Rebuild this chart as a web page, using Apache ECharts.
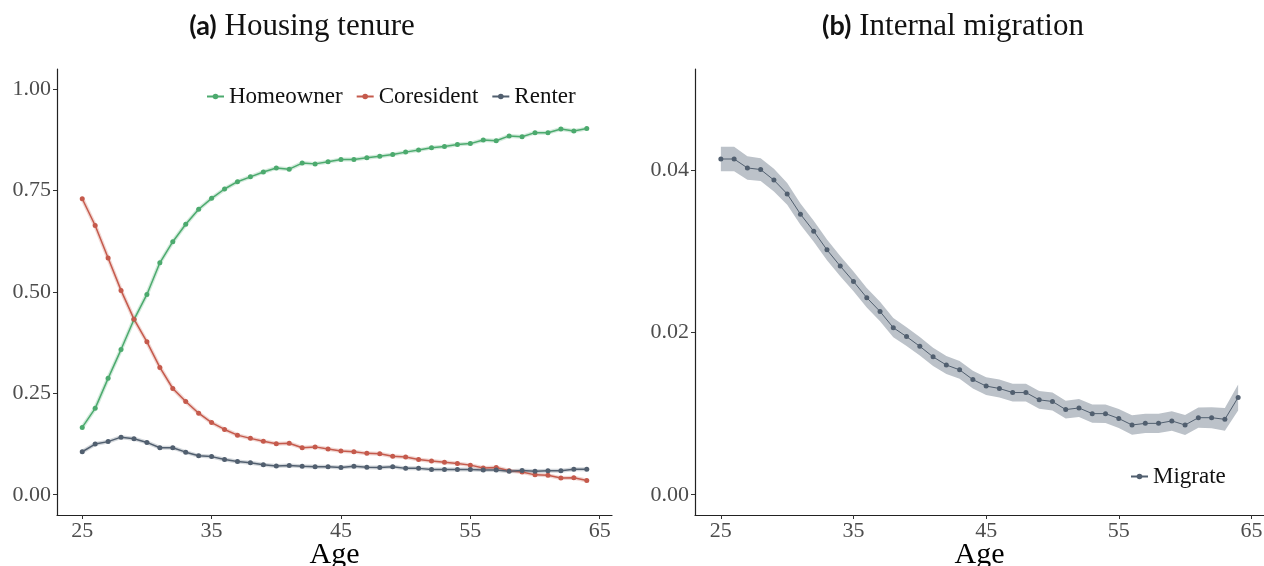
<!DOCTYPE html>
<html>
<head>
<meta charset="utf-8">
<title>Housing tenure and internal migration</title>
<script src="https://cdn.jsdelivr.net/npm/echarts@6/dist/echarts.min.js"></script>
<style>
  html, body { margin: 0; padding: 0; background: #fff; }
  #chart { width: 1264px; height: 566px; }
</style>
</head>
<body>
<div id="chart"></div>
<script>
// values
const ages = [25, 26, 27, 28, 29, 30, 31, 32, 33, 34, 35, 36, 37, 38, 39, 40, 41, 42, 43, 44,
  45, 46, 47, 48, 49, 50, 51, 52, 53, 54, 55, 56, 57, 58, 59, 60, 61, 62, 63, 64];

const homeowner = [0.166, 0.213, 0.287, 0.358, 0.432, 0.494, 0.572, 0.624, 0.667, 0.704,
  0.731, 0.754, 0.772, 0.784, 0.796, 0.806, 0.803, 0.818, 0.816, 0.821,
  0.827, 0.827, 0.831, 0.835, 0.839, 0.845, 0.850, 0.856, 0.859, 0.864,
  0.866, 0.875, 0.873, 0.885, 0.883, 0.893, 0.893, 0.902, 0.897, 0.903];

const coresident = [0.730, 0.664, 0.584, 0.504, 0.433, 0.377, 0.314, 0.262, 0.230, 0.201,
  0.178, 0.161, 0.147, 0.139, 0.132, 0.126, 0.127, 0.116, 0.118, 0.113,
  0.108, 0.106, 0.102, 0.101, 0.095, 0.093, 0.087, 0.083, 0.080, 0.077,
  0.073, 0.066, 0.067, 0.059, 0.056, 0.049, 0.048, 0.041, 0.042, 0.035];

const renter = [0.106, 0.125, 0.131, 0.142, 0.138, 0.129, 0.116, 0.116, 0.105, 0.096,
  0.094, 0.087, 0.082, 0.079, 0.074, 0.071, 0.072, 0.070, 0.069, 0.069,
  0.067, 0.070, 0.068, 0.067, 0.069, 0.065, 0.065, 0.062, 0.062, 0.062,
  0.062, 0.061, 0.061, 0.058, 0.060, 0.058, 0.059, 0.059, 0.063, 0.063];

const migrate = [0.0414, 0.0414, 0.0403, 0.0401, 0.0388, 0.0371, 0.0346, 0.0325, 0.0302, 0.0282,
  0.0263, 0.0243, 0.0226, 0.0206, 0.0195, 0.0183, 0.0170, 0.0160, 0.0154, 0.0142,
  0.0134, 0.0131, 0.0126, 0.0126, 0.0117, 0.0115, 0.0105, 0.0107, 0.0100, 0.0100,
  0.0094, 0.0086, 0.0088, 0.0088, 0.0091, 0.0086, 0.0095, 0.0095, 0.0093, 0.0120];

const migrateLow = [0.0399, 0.0399, 0.03885, 0.0387, 0.0374, 0.03575, 0.0333, 0.0312, 0.02892, 0.02695,
  0.02508, 0.0231, 0.0214, 0.01942, 0.01834, 0.01716, 0.01588, 0.0149, 0.0143, 0.0131,
  0.0123, 0.0120, 0.0115, 0.0115, 0.0106, 0.0104, 0.0094, 0.0096, 0.00888, 0.00886,
  0.00824, 0.0074, 0.0076, 0.0076, 0.0079, 0.00738, 0.00825, 0.0082, 0.0079, 0.0104];

const migrateHigh = [0.0429, 0.0429, 0.04175, 0.0415, 0.0402, 0.03845, 0.0359, 0.0338, 0.03148, 0.02945,
  0.02752, 0.0255, 0.0238, 0.02178, 0.02066, 0.01944, 0.01812, 0.0171, 0.0165, 0.0153,
  0.0145, 0.0142, 0.0137, 0.0137, 0.0128, 0.0126, 0.0116, 0.0118, 0.01112, 0.01114,
  0.01056, 0.0098, 0.0100, 0.0100, 0.0103, 0.00982, 0.01075, 0.0108, 0.0107, 0.0136];

const ageTicks = [25, 35, 45, 55, 65];
const tenureTicks = [0, 0.25, 0.5, 0.75, 1];
const migrateTicks = [0, 0.02, 0.04];

const GREEN = "#4caa6e";
const RED = "#c55a4c";
const SLATE = "#515f6f";
const BAND = "#bcc2c9";
const SERIF = "'Liberation Serif', 'DejaVu Serif', serif";
const SANS = "Lato, 'DejaVu Sans', sans-serif";

function pairs(ys) {
  return ages.map((a, i) => [a, ys[i]]);
}

function xAxisFor(gridIndex) {
  return {
    type: "value",
    gridIndex: gridIndex,
    min: 23.05,
    max: 65.95,
    name: "Age",
    nameLocation: "middle",
    nameGap: 25,
    nameMoveOverlap: false,
    nameTextStyle: { fontFamily: SERIF, fontSize: 30, color: "#000" },
    axisLine: { show: true, onZero: false, lineStyle: { color: "#222", width: 1.2 } },
    axisTick: { show: true, length: 4, customValues: ageTicks, lineStyle: { color: "#333" } },
    axisLabel: { customValues: ageTicks, margin: 5, fontFamily: SERIF, fontSize: 22, color: "#4d4d4d" },
    splitLine: { show: false },
  };
}

function yAxisFor(gridIndex, min, max, ticks) {
  return {
    type: "value",
    gridIndex: gridIndex,
    min: min,
    max: max,
    axisLine: { show: true, onZero: false, lineStyle: { color: "#222", width: 1.2 } },
    axisTick: { show: true, length: 4, customValues: ticks, lineStyle: { color: "#333" } },
    axisLabel: {
      customValues: ticks, margin: 6, fontFamily: SERIF, fontSize: 22, color: "#4d4d4d",
      formatter: (v) => v.toFixed(2),
    },
    splitLine: { show: false },
  };
}

function tenureLine(name, values, color) {
  return {
    name: name,
    type: "line",
    xAxisIndex: 0,
    yAxisIndex: 0,
    data: pairs(values),
    symbol: "circle",
    symbolSize: 5,
    lineStyle: { color: color, width: 1.5 },
    itemStyle: { color: color },
    z: 4,
  };
}

// thin confidence halo around the tenure lines
function tenureHalo(values, color) {
  return {
    type: "line",
    xAxisIndex: 0,
    yAxisIndex: 0,
    data: pairs(values),
    symbol: "none",
    silent: true,
    lineStyle: { color: color, width: 4, opacity: 0.25 },
    z: 3,
  };
}

function panelTitle(tag, text, x) {
  return {
    text: "{b|" + tag + "} " + text,
    left: x,
    top: 6,
    textAlign: "center",
    textStyle: {
      fontFamily: SERIF, fontSize: 31, fontWeight: "normal", color: "#111",
      rich: { b: { fontFamily: SANS, fontWeight: "bold", fontSize: 27, color: "#111" } },
    },
  };
}

var myChart = echarts.init(document.getElementById("chart"), null, { renderer: "canvas" });

myChart.setOption({
  animation: false,
  backgroundColor: "#fff",
  title: [
    panelTitle("(a)", "Housing tenure", 297),
    panelTitle("(b)", "Internal migration", 948),
  ],
  legend: [
    {
      data: ["Homeowner", "Coresident", "Renter"],
      left: 201,
      top: 80,
      itemWidth: 17,
      itemHeight: 7,
      itemGap: 13,
      textStyle: { fontFamily: SERIF, fontSize: 23, color: "#111" },
    },
    {
      data: ["Migrate"],
      left: 1125,
      top: 460,
      itemWidth: 17,
      itemHeight: 7,
      textStyle: { fontFamily: SERIF, fontSize: 23, color: "#111" },
    },
  ],
  grid: [
    { left: 57, top: 69, width: 555, height: 446, outerBoundsMode: "none" },
    { left: 695, top: 69, width: 569, height: 446, outerBoundsMode: "none" },
  ],
  xAxis: [xAxisFor(0), xAxisFor(1)],
  yAxis: [
    yAxisFor(0, -0.05, 1.05, tenureTicks),
    yAxisFor(1, -0.0025, 0.0525, migrateTicks),
  ],
  series: [
    tenureHalo(homeowner, GREEN),
    tenureHalo(coresident, RED),
    tenureHalo(renter, SLATE),
    tenureLine("Homeowner", homeowner, GREEN),
    tenureLine("Coresident", coresident, RED),
    tenureLine("Renter", renter, SLATE),
    {
      // confidence ribbon for migration: one polygon through the axis coordinates
      type: "custom",
      xAxisIndex: 1,
      yAxisIndex: 1,
      silent: true,
      z: 1,
      data: [[ages[0], migrate[0]]],
      renderItem: function (params, api) {
        const upper = ages.map((a, i) => api.coord([a, migrateHigh[i]]));
        const lower = ages.map((a, i) => api.coord([a, migrateLow[i]])).reverse();
        return {
          type: "polygon",
          shape: { points: upper.concat(lower) },
          style: { fill: BAND },
        };
      },
    },
    {
      name: "Migrate",
      type: "line",
      xAxisIndex: 1,
      yAxisIndex: 1,
      data: pairs(migrate),
      symbol: "circle",
      symbolSize: 5,
      lineStyle: { color: SLATE, width: 1 },
      itemStyle: { color: SLATE },
      z: 4,
    },
  ],
});

window.onresize = function () {
  myChart.resize();
};
</script>
</body>
</html>
